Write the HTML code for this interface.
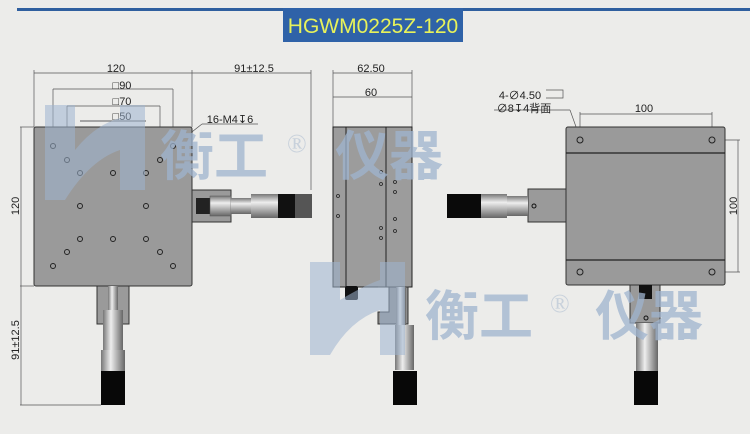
<!DOCTYPE html>
<html><head><meta charset="utf-8"><style>
body{margin:0;background:#ececea;}
svg{display:block;font-family:"Liberation Sans","Noto Sans CJK SC",sans-serif;}
</style></head><body>
<svg width="750" height="434" viewBox="0 0 750 434" xmlns="http://www.w3.org/2000/svg">
<defs>
<linearGradient id="bar" x1="0" y1="0" x2="0" y2="1"><stop offset="0" stop-color="#777"/><stop offset=".35" stop-color="#eee"/><stop offset="1" stop-color="#666"/></linearGradient>
<linearGradient id="barv" x1="0" y1="0" x2="1" y2="0"><stop offset="0" stop-color="#777"/><stop offset=".4" stop-color="#eee"/><stop offset="1" stop-color="#666"/></linearGradient>
</defs>
<rect width="750" height="434" fill="#ececea"/>
<rect x="17" y="8" width="733" height="3" fill="#2f5f9f"/>
<rect x="283" y="8" width="180" height="34" fill="#2f62a8"/>
<text x="373" y="33" font-size="21" fill="#e8f25a" text-anchor="middle">HGWM0225Z-120</text>

<!-- dimensions left -->
<g stroke="#555" stroke-width="0.7" fill="none">
<line x1="34" y1="73" x2="192" y2="73"/><line x1="34" y1="70" x2="34" y2="127"/><line x1="192" y1="70" x2="192" y2="127"/>
<line x1="192" y1="73" x2="311" y2="73"/><line x1="311" y1="70" x2="311" y2="190"/>
<line x1="53" y1="89" x2="173" y2="89"/><line x1="53" y1="87" x2="173" y2="146" stroke="none"/>
<line x1="53" y1="89" x2="53" y2="146"/><line x1="173" y1="89" x2="173" y2="146"/>
<line x1="67" y1="106" x2="160" y2="106"/><line x1="67" y1="106" x2="67" y2="160"/><line x1="160" y1="106" x2="160" y2="160"/>
<line x1="80" y1="121" x2="146" y2="121"/><line x1="80" y1="121" x2="146" y2="121"/>
<line x1="20" y1="127" x2="34" y2="127"/><line x1="21" y1="127" x2="21" y2="405"/>
<line x1="20" y1="286" x2="34" y2="286"/><line x1="20" y1="405" x2="101" y2="405"/>
<line x1="202" y1="124" x2="258" y2="124"/><line x1="202" y1="124" x2="174" y2="146"/>
<line x1="333" y1="73" x2="412" y2="73"/><line x1="333" y1="70" x2="333" y2="127"/><line x1="412" y1="70" x2="412" y2="127"/>
<line x1="333" y1="97" x2="412" y2="97"/>
<line x1="580" y1="114" x2="712" y2="114"/><line x1="580" y1="112" x2="580" y2="140"/><line x1="712" y1="112" x2="712" y2="140"/>
<line x1="494" y1="110" x2="570" y2="110"/><line x1="570" y1="110" x2="580" y2="138"/>
<line x1="712" y1="140" x2="740" y2="140"/><line x1="712" y1="272" x2="740" y2="272"/><line x1="738" y1="140" x2="738" y2="272"/>
<polyline points="546,90 563,90 563,98 546,98"/>
</g>
<g font-size="11" fill="#222" text-anchor="middle">
<text x="116" y="72">120</text>
<text x="254" y="72">91±12.5</text>
<text x="122" y="89">□90</text>
<text x="122" y="105">□70</text>
<text x="122" y="120">□50</text>
<text x="230" y="123">16-M4↧6</text>
<text x="371" y="72">62.50</text>
<text x="371" y="96">60</text>
<text x="644" y="112">100</text>
<text x="520" y="99">4-∅4.50</text>
<text x="524" y="112">∅8↧4背面</text>
<text transform="translate(19,206) rotate(-90)">120</text>
<text transform="translate(19,340) rotate(-90)">91±12.5</text>
<text transform="translate(737,206) rotate(-90)">100</text>
</g>

<!-- left view -->
<rect x="34" y="127" width="158" height="159" rx="2" fill="#9a9a9a" stroke="#333"/>
<g fill="none" stroke="#222" stroke-width="1">
<circle cx="53" cy="146" r="2.5"/><circle cx="173" cy="146" r="2.5"/>
<circle cx="67" cy="160" r="2.5"/><circle cx="160" cy="160" r="2.5"/>
<circle cx="80" cy="173" r="2.5"/><circle cx="113" cy="173" r="2.5"/><circle cx="146" cy="173" r="2.5"/>
<circle cx="80" cy="206" r="2.5"/><circle cx="146" cy="206" r="2.5"/>
<circle cx="80" cy="239" r="2.5"/><circle cx="113" cy="239" r="2.5"/><circle cx="146" cy="239" r="2.5"/>
<circle cx="67" cy="252" r="2.5"/><circle cx="160" cy="252" r="2.5"/>
<circle cx="53" cy="266" r="2.5"/><circle cx="173" cy="266" r="2.5"/>
</g>
<rect x="192" y="190" width="39" height="32" fill="#9a9a9a" stroke="#333"/>
<rect x="196" y="198" width="14" height="16" fill="#222"/>
<rect x="210" y="196" width="21" height="20" fill="url(#bar)" stroke="#555" stroke-width=".5"/>
<rect x="231" y="198" width="20" height="16" fill="url(#bar)"/>
<rect x="251" y="194" width="27" height="24" fill="url(#bar)"/>
<rect x="278" y="194" width="17" height="24" fill="#111"/><rect x="295" y="194" width="17" height="24" fill="#555"/>
<rect x="97" y="286" width="32" height="38" fill="#9a9a9a" stroke="#333"/>
<rect x="108" y="286" width="10" height="26" fill="url(#barv)"/>
<rect x="103" y="310" width="20" height="40" fill="url(#barv)"/>
<rect x="101" y="350" width="24" height="22" fill="url(#barv)"/>
<rect x="101" y="371" width="24" height="34" fill="#080808"/>

<!-- middle view -->
<rect x="333" y="127" width="79" height="160" fill="#9c9c9c" stroke="#222"/>
<line x1="346" y1="127" x2="346" y2="287" stroke="#222"/><line x1="386" y1="127" x2="386" y2="287" stroke="#222"/>
<g fill="none" stroke="#222" stroke-width=".8">
<circle cx="338" cy="196" r="1.5"/><circle cx="338" cy="216" r="1.5"/><circle cx="381" cy="172" r="1.5"/><circle cx="381" cy="184" r="1.5"/>
<circle cx="395" cy="182" r="1.5"/><circle cx="395" cy="192" r="1.5"/><circle cx="381" cy="228" r="1.5"/><circle cx="381" cy="238" r="1.5"/><circle cx="395" cy="219" r="1.5"/><circle cx="395" cy="231" r="1.5"/>
</g>
<rect x="345" y="286" width="13" height="14" rx="2" fill="#111"/>
<polygon points="378,287 408,287 408,324 378,324 378,312 389,312 389,287" fill="#8e8e8e" stroke="#333"/>
<rect x="396" y="287" width="10" height="40" fill="url(#barv)"/>
<rect x="395" y="325" width="19" height="45" fill="url(#barv)"/>
<rect x="393" y="371" width="24" height="34" fill="#080808"/>

<!-- right view -->
<rect x="566" y="127" width="159" height="158" rx="2" fill="#9a9a9a" stroke="#333"/>
<line x1="566" y1="153" x2="725" y2="153" stroke="#222" stroke-width="1.3"/>
<line x1="566" y1="260" x2="725" y2="260" stroke="#222" stroke-width="1.3"/>
<g fill="none" stroke="#222"><circle cx="580" cy="140" r="3"/><circle cx="712" cy="140" r="3"/><circle cx="580" cy="272" r="3"/><circle cx="712" cy="272" r="3"/></g>
<rect x="528" y="189" width="38" height="33" fill="#9a9a9a" stroke="#333"/><circle cx="534" cy="206" r="2" fill="none" stroke="#111"/>
<rect x="507" y="196" width="21" height="20" fill="url(#bar)"/>
<rect x="481" y="194" width="26" height="24" fill="url(#bar)"/>
<rect x="447" y="194" width="34" height="24" fill="#0a0a0a"/>
<rect x="630" y="285" width="30" height="38" fill="#9a9a9a" stroke="#333"/>
<rect x="639" y="285" width="13" height="14" fill="#111"/><circle cx="646" cy="318" r="2" fill="none" stroke="#111"/>
<rect x="636" y="323" width="22" height="48" fill="url(#barv)"/>
<rect x="634" y="371" width="24" height="34" fill="#080808"/>

<!-- watermark -->
<g fill="#9fb4cf" opacity=".55">
<path d="M45 105 L75 105 L75 150 Q95 125 120 118 L120 105 L145 105 L145 190 L120 190 L120 150 Q90 160 65 200 L45 200 Z"/>
<path d="M310 262 L340 262 L340 300 Q365 285 380 280 L380 262 L405 262 L405 355 L380 355 L380 310 Q350 320 330 355 L310 355 Z"/>
</g>
<g fill="#9fb4cf" opacity=".75" font-size="54" font-family="'Noto Sans CJK SC',sans-serif" font-weight="bold">
<text x="160" y="175">衡工</text><text x="335" y="175">仪器</text>
<text x="425" y="335">衡工</text><text x="595" y="335">仪器</text>
</g>
<g fill="#b9c6d6" opacity=".7" font-size="26" font-family="'Liberation Serif',serif">
<text x="287" y="152">®</text><text x="550" y="312">®</text>
</g>
</svg>
</body></html>
